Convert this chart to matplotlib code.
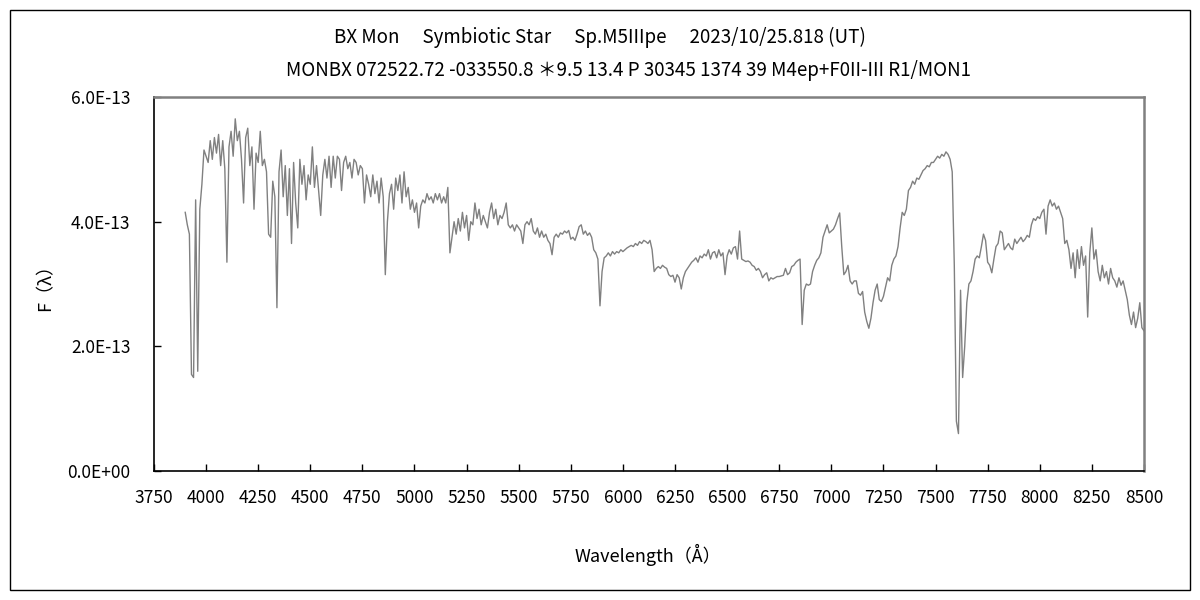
import numpy as np
import matplotlib
matplotlib.use("Agg")
import matplotlib.pyplot as plt
from matplotlib.patches import Rectangle
from matplotlib.ticker import FuncFormatter, MultipleLocator

# ------------------------------------------------------------
# Daten: BX Mon Spektrum, 10 A Raster, Fluss in Einheiten 1e-13
# ------------------------------------------------------------
wave_start = 3900
wave_step = 10
flux_e13 = [
    4.15, 3.95, 3.8, 1.55, 1.5, 4.35, 1.6, 4.2, 4.6, 5.15,       # 3900
    5.05, 4.95, 5.3, 5.0, 5.35, 5.1, 5.4, 4.9, 5.3, 4.85,        # 4000
    3.35, 5.2, 5.45, 5.05, 5.65, 5.3, 5.45, 5.0, 4.3, 5.35,      # 4100
    5.5, 4.9, 5.2, 4.2, 5.1, 4.95, 5.45, 4.9, 5.0, 4.8,          # 4200
    3.8, 3.75, 4.65, 4.4, 2.62, 4.8, 5.15, 4.4, 4.9, 4.1,        # 4300
    4.85, 3.65, 4.95, 4.3, 3.9, 5.0, 4.6, 4.9, 4.35, 4.75,       # 4400
    4.6, 5.2, 4.55, 4.9, 4.5, 4.1, 4.75, 5.0, 4.7, 5.05,         # 4500
    4.55, 5.05, 4.7, 5.05, 5.0, 4.5, 4.95, 5.05, 4.85, 4.95,     # 4600
    4.7, 5.0, 4.95, 4.75, 4.9, 4.85, 4.3, 4.75, 4.6, 4.4,        # 4700
    4.75, 4.45, 4.65, 4.3, 4.7, 4.4, 3.15, 4.0, 4.45, 4.6,       # 4800
    4.2, 4.7, 4.5, 4.75, 4.3, 4.8, 4.4, 4.55, 4.2, 4.35,         # 4900
    4.15, 4.3, 3.9, 4.25, 4.35, 4.3, 4.45, 4.35, 4.4, 4.3,       # 5000
    4.45, 4.35, 4.45, 4.3, 4.4, 4.3, 4.55, 3.5, 3.75, 4.0,       # 5100
    3.8, 4.05, 3.85, 4.15, 3.9, 4.1, 3.7, 4.0, 3.95, 4.3,        # 5200
    4.05, 4.2, 3.95, 4.1, 4.0, 3.9, 4.15, 4.3, 4.05, 4.2,        # 5300
    3.95, 4.1, 4.05, 4.15, 4.3, 3.95, 3.9, 3.95, 3.85, 3.95,     # 5400
    3.9, 3.85, 3.65, 3.95, 4.0, 3.95, 4.05, 3.85, 3.8, 3.9,      # 5500
    3.75, 3.85, 3.75, 3.8, 3.7, 3.65, 3.47, 3.75, 3.8, 3.75,     # 5600
    3.82, 3.8, 3.85, 3.82, 3.86, 3.72, 3.75, 3.7, 3.8, 3.92,     # 5700
    3.95, 3.8, 3.85, 3.78, 3.82, 3.75, 3.55, 3.5, 3.4, 2.65,     # 5800
    3.2, 3.42, 3.45, 3.5, 3.45, 3.52, 3.48, 3.52, 3.5, 3.55,     # 5900
    3.52, 3.55, 3.58, 3.6, 3.62, 3.6, 3.65, 3.62, 3.68, 3.65,    # 6000
    3.7, 3.68, 3.65, 3.7, 3.55, 3.2, 3.25, 3.28, 3.25, 3.3,      # 6100
    3.27, 3.25, 3.15, 3.12, 3.14, 3.03, 3.15, 3.1, 2.92, 3.1,    # 6200
    3.2, 3.25, 3.3, 3.35, 3.38, 3.42, 3.35, 3.45, 3.42, 3.48,    # 6300
    3.45, 3.55, 3.4, 3.5, 3.52, 3.42, 3.55, 3.45, 3.5, 3.15,     # 6400
    3.45, 3.55, 3.48, 3.58, 3.6, 3.4, 3.85, 3.4, 3.38, 3.36,     # 6500
    3.37, 3.35, 3.3, 3.28, 3.22, 3.25, 3.2, 3.1, 3.15, 3.18,     # 6600
    3.05, 3.1, 3.08, 3.1, 3.12, 3.12, 3.13, 3.14, 3.25, 3.15,    # 6700
    3.18, 3.28, 3.3, 3.35, 3.38, 3.4, 2.35, 2.9, 3.0, 2.98,      # 6800
    3.0, 3.2, 3.3, 3.38, 3.42, 3.5, 3.75, 3.85, 3.95, 3.82,      # 6900
    3.85, 3.88, 3.95, 4.05, 4.14, 3.6, 3.15, 3.2, 3.3, 3.05,     # 7000
    3.0, 3.05, 3.05, 2.85, 2.82, 2.88, 2.55, 2.4, 2.29, 2.45,    # 7100
    2.7, 2.9, 3.0, 2.75, 2.72, 2.8, 2.95, 3.1, 3.05, 3.3,        # 7200
    3.4, 3.45, 3.6, 3.9, 4.15, 4.1, 4.2, 4.5, 4.55, 4.65,        # 7300
    4.6, 4.7, 4.68, 4.75, 4.82, 4.85, 4.9, 4.88, 4.95, 4.95,     # 7400
    5.0, 5.05, 5.02, 5.08, 5.05, 5.12, 5.08, 5.0, 4.8, 3.3,      # 7500
    0.8, 0.6, 2.9, 1.5, 2.0, 2.7, 3.0, 3.05, 3.2, 3.4,           # 7600
    3.45, 3.42, 3.6, 3.8, 3.7, 3.35, 3.3, 3.18, 3.4, 3.6,        # 7700
    3.65, 3.85, 3.82, 3.55, 3.6, 3.65, 3.58, 3.55, 3.72, 3.65,   # 7800
    3.7, 3.75, 3.68, 3.72, 3.78, 3.75, 3.95, 4.05, 4.02, 4.08,   # 7900
    4.05, 4.15, 4.2, 3.8, 4.25, 4.35, 4.25, 4.3, 4.2, 4.25,      # 8000
    4.15, 4.05, 3.65, 3.7, 3.55, 3.25, 3.5, 3.1, 3.55, 3.25,     # 8100
    3.6, 3.3, 3.45, 2.47, 3.5, 3.9, 3.4, 3.55, 3.2, 3.05,        # 8200
    3.3, 3.1, 3.2, 3.0, 3.25, 3.1, 3.05, 2.95, 3.1, 2.98,        # 8300
    3.05, 2.9, 2.75, 2.5, 2.35, 2.55, 2.3, 2.45, 2.7, 2.3,       # 8400
    2.25,                                                        # 8500
]
wavelength = wave_start + wave_step * np.arange(len(flux_e13))
flux = np.array(flux_e13) * 1e-13

title_line1 = "BX Mon\u3000 Symbiotic Star\u3000 Sp.M5IIIpe\u3000 2023/10/25.818 (UT)"
title_line2 = "MONBX 072522.72 -033550.8 \uff0a9.5 13.4 P 30345 1374 39 M4ep+F0II-III R1/MON1"
xlabel = "Wavelength\uff08\u00c5\uff09"
ylabel = "F\uff08\u03bb\uff09"

# ------------------------------------------------------------
# Stil
# ------------------------------------------------------------
FONT = ["Noto Sans CJK JP", "DejaVu Sans"]
COLOR_LINE = "#808080"
COLOR_FRAME = "#808080"
plt.rcParams["font.family"] = FONT
plt.rcParams["font.size"] = 12.5

fig = plt.figure(figsize=(12, 6), dpi=100, facecolor="white")
ax = fig.add_axes([0.1283, 0.215, 0.825, 0.6233])

ax.plot(wavelength, flux, color=COLOR_LINE, linewidth=1.0)

ax.set_xlim(3750, 8500)
ax.set_ylim(0, 6e-13)
ax.xaxis.set_major_locator(MultipleLocator(250))
ax.yaxis.set_major_locator(MultipleLocator(2e-13))
ax.yaxis.set_major_formatter(FuncFormatter(lambda v, p: "%.1E" % v))
ax.tick_params(direction="in", length=5, width=1, colors="black", labelsize=12.5)
ax.tick_params(axis="x", pad=13)
ax.tick_params(axis="y", pad=17)

for side in ["top", "right"]:
    ax.spines[side].set_color(COLOR_FRAME)
    ax.spines[side].set_linewidth(1.8)
for side in ["left", "bottom"]:
    ax.spines[side].set_color("black")
    ax.spines[side].set_linewidth(1.2)

# Titel und Achsenbeschriftungen
fig.text(0.5, 0.937, title_line1, ha="center", va="center", fontsize=13.5)
fig.text(0.524, 0.882, title_line2, ha="center", va="center", fontsize=13.5)
fig.text(0.54, 0.075, xlabel, ha="center", va="center", fontsize=13)
fig.text(0.0375, 0.528, ylabel, ha="center", va="center", fontsize=13, rotation=90)

# Rahmen um die gesamte Grafik
fig.patches.append(Rectangle((0.008, 0.017), 0.984, 0.966, transform=fig.transFigure,
                             fill=False, edgecolor="black", linewidth=1.0))

fig.savefig("out.png", dpi=100)
